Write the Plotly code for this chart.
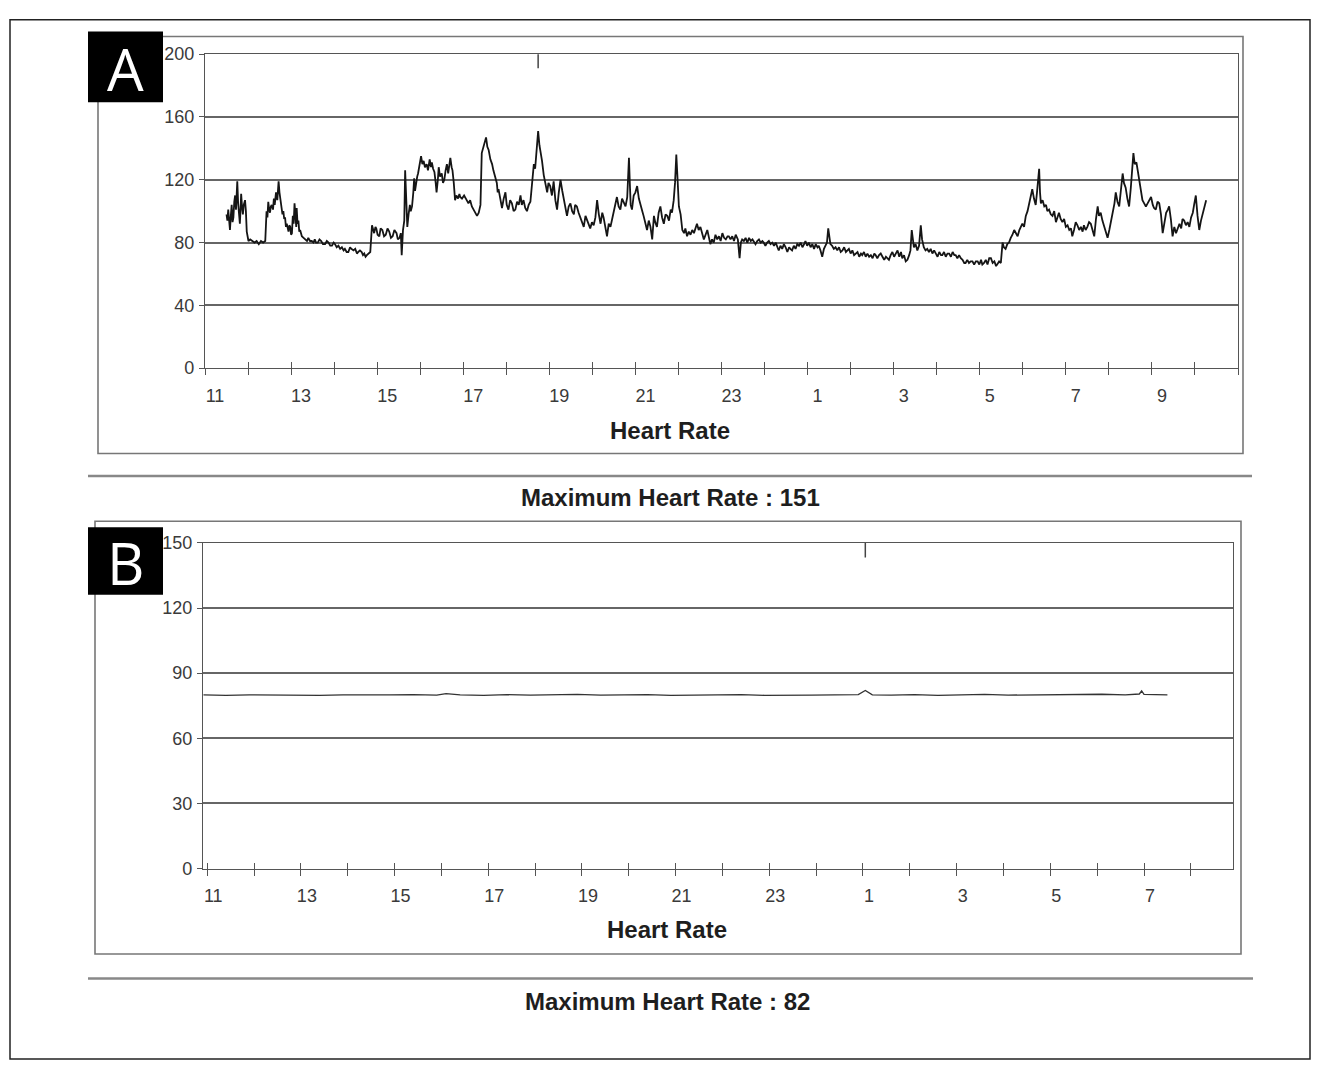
import plotly.graph_objects as go

# ---------------- data ----------------
# Panel A: continuous clock hours (25 = 1 am next day), heart rate in bpm
hours_a = [
    11.50, 11.52, 11.54, 11.56, 11.58, 11.60, 11.62, 11.64, 11.66, 11.68,
    11.70, 11.72, 11.75, 11.77, 11.78, 11.80, 11.81, 11.83, 11.84, 11.86,
    11.88, 11.90, 11.93, 11.95, 11.97, 12.01, 12.05, 12.10, 12.15, 12.20,
    12.25, 12.30, 12.35, 12.40, 12.43, 12.45, 12.47, 12.49, 12.51, 12.53,
    12.55, 12.58, 12.60, 12.62, 12.65, 12.68, 12.71, 12.73, 12.75, 12.77,
    12.78, 12.80, 12.82, 12.84, 12.86, 12.88, 12.90, 12.92, 12.94, 12.96,
    12.98, 13.00, 13.02, 13.04, 13.06, 13.08, 13.10, 13.11, 13.12, 13.13,
    13.15, 13.17, 13.19, 13.21, 13.23, 13.25, 13.29, 13.33, 13.37, 13.40,
    13.44, 13.48, 13.52, 13.55, 13.58, 13.62, 13.66, 13.70, 13.74, 13.79,
    13.83, 13.87, 13.91, 13.95, 13.99, 14.02, 14.06, 14.10, 14.14, 14.18,
    14.22, 14.25, 14.29, 14.33, 14.37, 14.40, 14.45, 14.49, 14.53, 14.56,
    14.60, 14.64, 14.67, 14.70, 14.73, 14.76, 14.80, 14.84, 14.88, 14.90,
    14.93, 14.96, 14.98, 15.01, 15.05, 15.08, 15.12, 15.16, 15.20, 15.24,
    15.28, 15.32, 15.36, 15.40, 15.45, 15.48, 15.52, 15.55, 15.57, 15.60,
    15.63, 15.65, 15.67, 15.70, 15.73, 15.76, 15.78, 15.81, 15.84, 15.86,
    15.88, 15.90, 15.93, 15.95, 15.98, 16.02, 16.05, 16.08, 16.11, 16.15,
    16.18, 16.22, 16.25, 16.27, 16.30, 16.33, 16.36, 16.38, 16.41, 16.43,
    16.46, 16.50, 16.53, 16.56, 16.59, 16.62, 16.65, 16.68, 16.70, 16.73,
    16.75, 16.78, 16.81, 16.84, 16.88, 16.91, 16.93, 16.97, 17.02, 17.08,
    17.12, 17.16, 17.20, 17.24, 17.28, 17.32, 17.36, 17.40, 17.43, 17.46,
    17.50, 17.53, 17.56, 17.59, 17.63, 17.67, 17.70, 17.74, 17.78, 17.80,
    17.82, 17.86, 17.90, 17.94, 17.98, 18.01, 18.05, 18.09, 18.13, 18.17,
    18.21, 18.25, 18.29, 18.33, 18.36, 18.40, 18.44, 18.48, 18.52, 18.56,
    18.60, 18.64, 18.67, 18.70, 18.74, 18.77, 18.79, 18.83, 18.87, 18.91,
    18.95, 18.98, 19.02, 19.06, 19.10, 19.14, 19.18, 19.22, 19.26, 19.30,
    19.33, 19.37, 19.41, 19.45, 19.49, 19.53, 19.57, 19.60, 19.64, 19.68,
    19.72, 19.76, 19.80, 19.84, 19.88, 19.92, 19.95, 19.99, 20.03, 20.07,
    20.11, 20.15, 20.19, 20.23, 20.26, 20.30, 20.34, 20.38, 20.42, 20.46,
    20.50, 20.54, 20.57, 20.61, 20.65, 20.69, 20.73, 20.77, 20.81, 20.83,
    20.85, 20.87, 20.89, 20.92, 20.96, 21.00, 21.04, 21.08, 21.12, 21.16,
    21.19, 21.23, 21.27, 21.31, 21.35, 21.39, 21.43, 21.46, 21.50, 21.54,
    21.58, 21.62, 21.66, 21.70, 21.74, 21.78, 21.82, 21.85, 21.89, 21.92,
    21.95, 21.98, 22.01, 22.05, 22.09, 22.13, 22.16, 22.20, 22.24, 22.28,
    22.32, 22.36, 22.40, 22.43, 22.47, 22.51, 22.55, 22.59, 22.63, 22.67,
    22.71, 22.74, 22.78, 22.82, 22.86, 22.90, 22.94, 22.98, 23.02, 23.06,
    23.10, 23.14, 23.17, 23.21, 23.25, 23.29, 23.33, 23.38, 23.42, 23.45,
    23.48, 23.52, 23.56, 23.60, 23.64, 23.68, 23.72, 23.75, 23.79, 23.83,
    23.87, 23.91, 23.95, 23.98, 24.02, 24.06, 24.10, 24.14, 24.18, 24.22,
    24.26, 24.30, 24.33, 24.37, 24.41, 24.45, 24.49, 24.53, 24.57, 24.60,
    24.64, 24.68, 24.72, 24.76, 24.80, 24.84, 24.88, 24.92, 24.95, 24.99,
    25.03, 25.07, 25.11, 25.15, 25.19, 25.23, 25.26, 25.30, 25.34, 25.38,
    25.42, 25.45, 25.48, 25.51, 25.53, 25.57, 25.61, 25.65, 25.69, 25.73,
    25.77, 25.81, 25.85, 25.89, 25.92, 25.96, 26.00, 26.04, 26.08, 26.12,
    26.16, 26.20, 26.24, 26.27, 26.31, 26.35, 26.39, 26.43, 26.47, 26.51,
    26.55, 26.58, 26.62, 26.66, 26.70, 26.74, 26.78, 26.82, 26.86, 26.89,
    26.93, 26.97, 27.01, 27.05, 27.09, 27.13, 27.17, 27.20, 27.24, 27.28,
    27.32, 27.36, 27.39, 27.42, 27.45, 27.47, 27.51, 27.55, 27.59, 27.63,
    27.66, 27.70, 27.74, 27.78, 27.82, 27.86, 27.90, 27.94, 27.98, 28.02,
    28.06, 28.10, 28.13, 28.17, 28.21, 28.25, 28.29, 28.33, 28.37, 28.41,
    28.44, 28.48, 28.52, 28.56, 28.60, 28.64, 28.67, 28.71, 28.75, 28.79,
    28.83, 28.87, 28.91, 28.95, 28.99, 29.03, 29.06, 29.10, 29.14, 29.18,
    29.22, 29.26, 29.30, 29.34, 29.38, 29.41, 29.45, 29.49, 29.53, 29.56,
    29.60, 29.64, 29.68, 29.72, 29.76, 29.80, 29.84, 29.88, 29.92, 29.96,
    29.99, 30.03, 30.07, 30.11, 30.15, 30.18, 30.22, 30.26, 30.30, 30.33,
    30.36, 30.38, 30.40, 30.42, 30.46, 30.50, 30.54, 30.57, 30.61, 30.65,
    30.69, 30.73, 30.77, 30.80, 30.84, 30.88, 30.92, 30.96, 31.00, 31.04,
    31.08, 31.12, 31.15, 31.19, 31.23, 31.27, 31.31, 31.35, 31.39, 31.42,
    31.46, 31.50, 31.54, 31.58, 31.62, 31.66, 31.70, 31.74, 31.77, 31.81,
    31.85, 31.89, 31.93, 31.97, 32.01, 32.05, 32.09, 32.13, 32.16, 32.20,
    32.24, 32.28, 32.32, 32.35, 32.39, 32.43, 32.47, 32.51, 32.54, 32.57,
    32.60, 32.64, 32.67, 32.70, 32.74, 32.78, 32.82, 32.86, 32.90, 32.94,
    32.98, 33.02, 33.05, 33.09, 33.13, 33.17, 33.21, 33.25, 33.29, 33.33,
    33.37, 33.40, 33.44, 33.48, 33.52, 33.56, 33.60, 33.64, 33.68, 33.71,
    33.75, 33.79, 33.83, 33.87, 33.91, 33.95, 33.98, 34.02, 34.06, 34.10,
    34.14, 34.18, 34.22, 34.26,
]
rate_a = [
    98, 94, 101, 90, 88, 97, 104, 93, 96, 106,
    110, 101, 119, 105, 100, 95, 92, 104, 111, 103,
    98, 104, 107, 100, 87, 81, 82, 81, 80, 81,
    79, 81, 80, 81, 100, 96, 106, 101, 99, 103,
    104, 101, 108, 104, 112, 107, 119, 112, 108, 104,
    103, 98, 100, 95, 96, 90, 92, 88, 87, 91,
    90, 85, 86, 97, 92, 105, 95, 98, 90, 102,
    92, 94, 87, 88, 86, 84, 83, 82, 81, 83,
    81, 81, 80, 82, 80, 80, 82, 81, 79, 79,
    81, 80, 78, 78, 80, 79, 77, 78, 76, 77,
    75, 76, 74, 74, 77, 76, 75, 76, 73, 74,
    75, 74, 72, 73, 71, 72, 73, 74, 91, 88,
    86, 90, 89, 85, 84, 89, 88, 84, 85, 89,
    87, 83, 84, 88, 86, 82, 83, 86, 72, 88,
    94, 126, 110, 90, 98, 104, 100, 103, 112, 121,
    113, 118, 122, 124, 128, 135, 130, 132, 128, 130,
    126, 133, 128, 131, 127, 125, 118, 112, 120, 128,
    122, 124, 118, 120, 126, 130, 124, 131, 134, 128,
    126, 118, 107, 110, 108, 111, 109, 108, 110, 107,
    105, 107, 103, 101, 99, 97, 99, 104, 137, 140,
    143, 147, 141, 139, 133, 130, 126, 122, 118, 112,
    114, 108, 102, 108, 112, 104, 101, 107, 105, 100,
    101, 106, 104, 110, 104, 107, 102, 100, 104, 106,
    118, 130, 127, 140, 151, 142, 139, 132, 123, 118,
    112, 118, 116, 110, 119, 107, 101, 112, 120, 113,
    109, 102, 97, 103, 105, 100, 98, 104, 103, 99,
    96, 93, 90, 97, 94, 91, 89, 93, 91, 96,
    107, 98, 92, 99, 96, 90, 84, 92, 90, 95,
    100, 104, 109, 103, 101, 108, 105, 103, 109, 118,
    134, 118, 104, 101, 110, 112, 116, 108, 103, 100,
    97, 93, 88, 94, 90, 82, 97, 93, 90, 99,
    103, 96, 92, 98, 97, 94, 101, 99, 107, 118,
    136, 120, 103, 98, 88, 86, 89, 84, 87, 85,
    88, 86, 90, 92, 88, 90, 86, 82, 85, 88,
    83, 79, 82, 80, 85, 82, 84, 81, 86, 83,
    82, 84, 84, 82, 84, 81, 85, 82, 70, 80,
    82, 81, 83, 80, 83, 81, 82, 81, 79, 81,
    82, 80, 81, 80, 78, 80, 81, 79, 80, 78,
    80, 77, 75, 78, 76, 79, 77, 74, 77, 76,
    75, 78, 76, 79, 78, 80, 77, 79, 81, 78,
    80, 77, 79, 76, 79, 77, 78, 75, 71, 76,
    78, 80, 89, 82, 79, 78, 76, 77, 75, 77,
    74, 75, 77, 74, 75, 76, 73, 75, 72, 73,
    74, 71, 73, 72, 74, 71, 73, 71, 72, 70,
    73, 72, 70, 72, 73, 71, 69, 71, 70, 69,
    72, 74, 71, 73, 75, 71, 74, 70, 72, 68,
    69, 72, 75, 88, 80, 77, 79, 75, 78, 91,
    82, 77, 75, 76, 74, 76, 73, 75, 73, 71,
    74, 72, 72, 74, 71, 73, 73, 71, 74, 72,
    72, 70, 72, 70, 69, 67, 67, 69, 67, 68,
    68, 66, 68, 68, 66, 69, 66, 67, 69, 66,
    70, 70, 67, 68, 65, 66, 68, 67, 80, 77,
    76, 79, 80, 83, 85, 88, 86, 84, 88, 90,
    92, 90, 97, 100, 105, 110, 114, 108, 104, 112,
    120, 127, 112, 105, 107, 103, 104, 100, 101, 98,
    97, 100, 93, 96, 99, 95, 93, 95, 90, 91,
    88, 89, 84, 88, 93, 91, 88, 90, 87, 91,
    88, 90, 93, 92, 88, 84, 95, 103, 97, 99,
    94, 90, 86, 83, 88, 93, 99, 105, 112, 106,
    103, 115, 124, 118, 115, 108, 103, 115, 128, 137,
    130, 131, 126, 120, 113, 107, 105, 103, 105, 107,
    109, 104, 102, 101, 106, 105, 98, 86, 93, 99,
    101, 103, 95, 84, 90, 86, 89, 92, 89, 95,
    94, 91, 93, 90, 96, 99, 104, 110, 97, 88,
    94, 99, 102, 107,
]

# Panel B
hours_b = [
    10.92, 11.40, 11.90, 12.40, 12.90, 13.40, 13.90, 14.40, 14.90, 15.40, 15.90, 16.10, 16.40, 16.90,
    17.40, 17.90, 18.40, 18.90, 19.40, 19.90, 20.40, 20.90, 21.40, 21.90, 22.40, 22.90, 23.40, 23.90,
    24.40, 24.90, 25.05, 25.20, 25.60, 26.10, 26.60, 27.10, 27.60, 28.10, 28.60, 29.10, 29.60, 30.10,
    30.60, 30.90, 30.95, 31.00, 31.50,
]
rate_b = [
    80.0, 79.8, 80.0, 79.9, 80.1, 79.8, 80.0, 79.9, 80.0, 80.1, 79.9, 80.6, 80.0, 79.8,
    80.1, 79.9, 80.0, 80.2, 79.9, 80.0, 80.1, 79.8, 80.0, 79.9, 80.1, 79.8, 80.0, 79.9,
    80.0, 80.1, 82.0, 80.0, 79.9, 80.1, 79.8, 80.0, 80.2, 79.9, 80.0, 80.1, 79.9, 80.3,
    80.0, 80.4, 81.8, 80.2, 80.0,
]

tick_hours_a = [11, 13, 15, 17, 19, 21, 23, 25, 27, 29, 31, 33]
tick_text_a = ["11", "13", "15", "17", "19", "21", "23", "1", "3", "5", "7", "9"]
tick_hours_b = [11, 13, 15, 17, 19, 21, 23, 25, 27, 29, 31]
tick_text_b = ["11", "13", "15", "17", "19", "21", "23", "1", "3", "5", "7"]
yticks_a = [0, 40, 80, 120, 160, 200]
yticks_b = [0, 30, 60, 90, 120, 150]

assert len(hours_a) == len(rate_a)
assert len(hours_b) == len(rate_b)

W, H = 1321, 1070
def px(x):
    return x / W
def py(y):
    return 1 - y / H

GRID = "#666666"
TICKFONT = dict(family="Liberation Sans, Arial, sans-serif", size=18, color="#3a3a3a")
BOLD = dict(family="Liberation Sans, Arial, sans-serif", size=24, color="#1e1e1e")

fig = go.Figure()
fig.add_trace(go.Scatter(x=hours_a, y=rate_a, mode="lines", line=dict(color="#151515", width=1.8),
                         xaxis="x", yaxis="y", showlegend=False, hoverinfo="skip"))
fig.add_trace(go.Scatter(x=hours_b, y=rate_b, mode="lines", line=dict(color="#333333", width=1.3),
                         xaxis="x2", yaxis="y2", showlegend=False, hoverinfo="skip"))
# invisible traces carrying the inside half of the crossing ticks
fig.add_trace(go.Scatter(x=[hours_a[0]], y=[None], xaxis="x3", yaxis="y", showlegend=False, hoverinfo="skip"))
fig.add_trace(go.Scatter(x=[hours_b[0]], y=[None], xaxis="x4", yaxis="y2", showlegend=False, hoverinfo="skip"))

def xaxis_common(rng, dom, tv, tt, shift):
    return dict(
        domain=dom, range=rng, tickvals=tv, ticktext=tt, ticks="outside", ticklen=6, tickwidth=1.3,
        tickcolor="#555", minor=dict(ticks="outside", dtick=1, tick0=11, ticklen=6, tickwidth=1.3, tickcolor="#555"),
        showline=True, linecolor="#555", linewidth=1.4, mirror=True, showgrid=False, zeroline=False,
        tickfont=TICKFONT, ticklabelshift=shift, ticklabelstandoff=5, fixedrange=True,
    )

def xaxis_inside(over, rng, tv):
    return dict(overlaying=over, matches=over, range=rng, tickvals=tv, ticks="inside", ticklen=6,
                tickwidth=1.3, tickcolor="#555",
                minor=dict(ticks="inside", dtick=1, tick0=11, ticklen=6, tickwidth=1.3, tickcolor="#555"),
                showticklabels=False, showline=False, showgrid=False, zeroline=False, side="bottom")

def yaxis_common(rng, dom, tv, anchor):
    return dict(
        domain=dom, range=rng, tickvals=tv, ticks="outside", ticklen=5, tickwidth=1.3, tickcolor="#555",
        showline=True, linecolor="#555", linewidth=1.4, mirror=True, showgrid=True, gridcolor=GRID,
        gridwidth=1.6, zeroline=False, tickfont=TICKFONT, ticklabelstandoff=1, anchor=anchor, fixedrange=True,
    )

xr_a = [11.0, 35.0]
xr_b = [10.91, 32.9]
dom_xa = [px(205), px(1238)]
dom_ya = [py(365), py(45)]
dom_xb = [px(203), px(1233)]
dom_yb = [py(875), py(543)]

fig.update_layout(
    width=W, height=H, margin=dict(l=0, r=0, t=0, b=0),
    paper_bgcolor="white", plot_bgcolor="white", showlegend=False,
    xaxis=dict(**xaxis_common(xr_a, dom_xa, tick_hours_a, tick_text_a, 10), anchor="y"),
    yaxis=yaxis_common([0, 200], dom_ya, yticks_a, "x"),
    xaxis2=dict(**xaxis_common(xr_b, dom_xb, tick_hours_b, tick_text_b, 6), anchor="y2"),
    yaxis2=yaxis_common([0, 150], dom_yb, yticks_b, "x2"),
    xaxis3=dict(**xaxis_inside("x", xr_a, tick_hours_a), anchor="y"),
    xaxis4=dict(**xaxis_inside("x2", xr_b, tick_hours_b), anchor="y2"),
)

# maximum-rate markers at the top of each plot (derived from the data)
imax_a = max(range(len(rate_a)), key=lambda i: rate_a[i])
imax_b = max(range(len(rate_b)), key=lambda i: rate_b[i])
shapes = [
    dict(type="line", xref="x", yref="y domain", x0=hours_a[imax_a], x1=hours_a[imax_a], y0=0.955, y1=1.0,
         line=dict(color="#444", width=1.5)),
    dict(type="line", xref="x2", yref="y2 domain", x0=hours_b[imax_b], x1=hours_b[imax_b], y0=0.955, y1=1.0,
         line=dict(color="#444", width=1.5)),
]

# page furniture (report frames, separators, figure frame, panel badges)
def rect(x0, y0, x1, y1, color, width, fill=None):
    d = dict(type="rect", xref="paper", yref="paper", x0=px(x0), x1=px(x1), y0=py(y1), y1=py(y0),
             line=dict(color=color, width=width), layer="below")
    if fill:
        d["fillcolor"] = fill
        d["layer"] = "above"
    return d

def hline(x0, x1, y, color, width):
    return dict(type="line", xref="paper", yref="paper", x0=px(x0), x1=px(x1), y0=py(y), y1=py(y),
                line=dict(color=color, width=width))

shapes += [
    rect(10, 10, 1310, 1069, "#222", 1.5),
    rect(98, 27, 1243, 452, "#777", 1.6),
    rect(95, 521, 1241, 962, "#777", 1.6),
    hline(88, 1252, 475, "#888", 2.5),
    hline(88, 1253, 987, "#888", 2.5),
    rect(88, 22, 163, 94, "black", 0, fill="black"),
    rect(88, 527, 163, 596, "black", 0, fill="black"),
]
fig.update_layout(shapes=shapes)

BADGE = dict(family="Open Sans, Noto Sans, sans-serif", size=58, color="white")
annotations = [
    dict(text="A", x=px(125.5), y=py(60), xref="paper", yref="paper", showarrow=False, font=BADGE,
         xanchor="center", yanchor="middle"),
    dict(text="B", x=px(125.5), y=py(563), xref="paper", yref="paper", showarrow=False, font=BADGE,
         xanchor="center", yanchor="middle"),
    dict(text="<b>Heart Rate</b>", x=px(670), y=py(428), xref="paper", yref="paper", showarrow=False,
         font=BOLD, xanchor="center", yanchor="middle"),
    dict(text="<b>Heart Rate</b>", x=px(667), y=py(937), xref="paper", yref="paper", showarrow=False,
         font=BOLD, xanchor="center", yanchor="middle"),
    dict(text=f"<b>Maximum Heart Rate : {max(rate_a):.0f}</b>", x=px(670), y=py(497), xref="paper",
         yref="paper", showarrow=False, font=BOLD, xanchor="center", yanchor="middle"),
    dict(text=f"<b>Maximum Heart Rate : {max(rate_b):.0f}</b>", x=px(667), y=py(1010), xref="paper",
         yref="paper", showarrow=False, font=BOLD, xanchor="center", yanchor="middle"),
]
fig.update_layout(annotations=annotations)

fig.write_html("out.html")
